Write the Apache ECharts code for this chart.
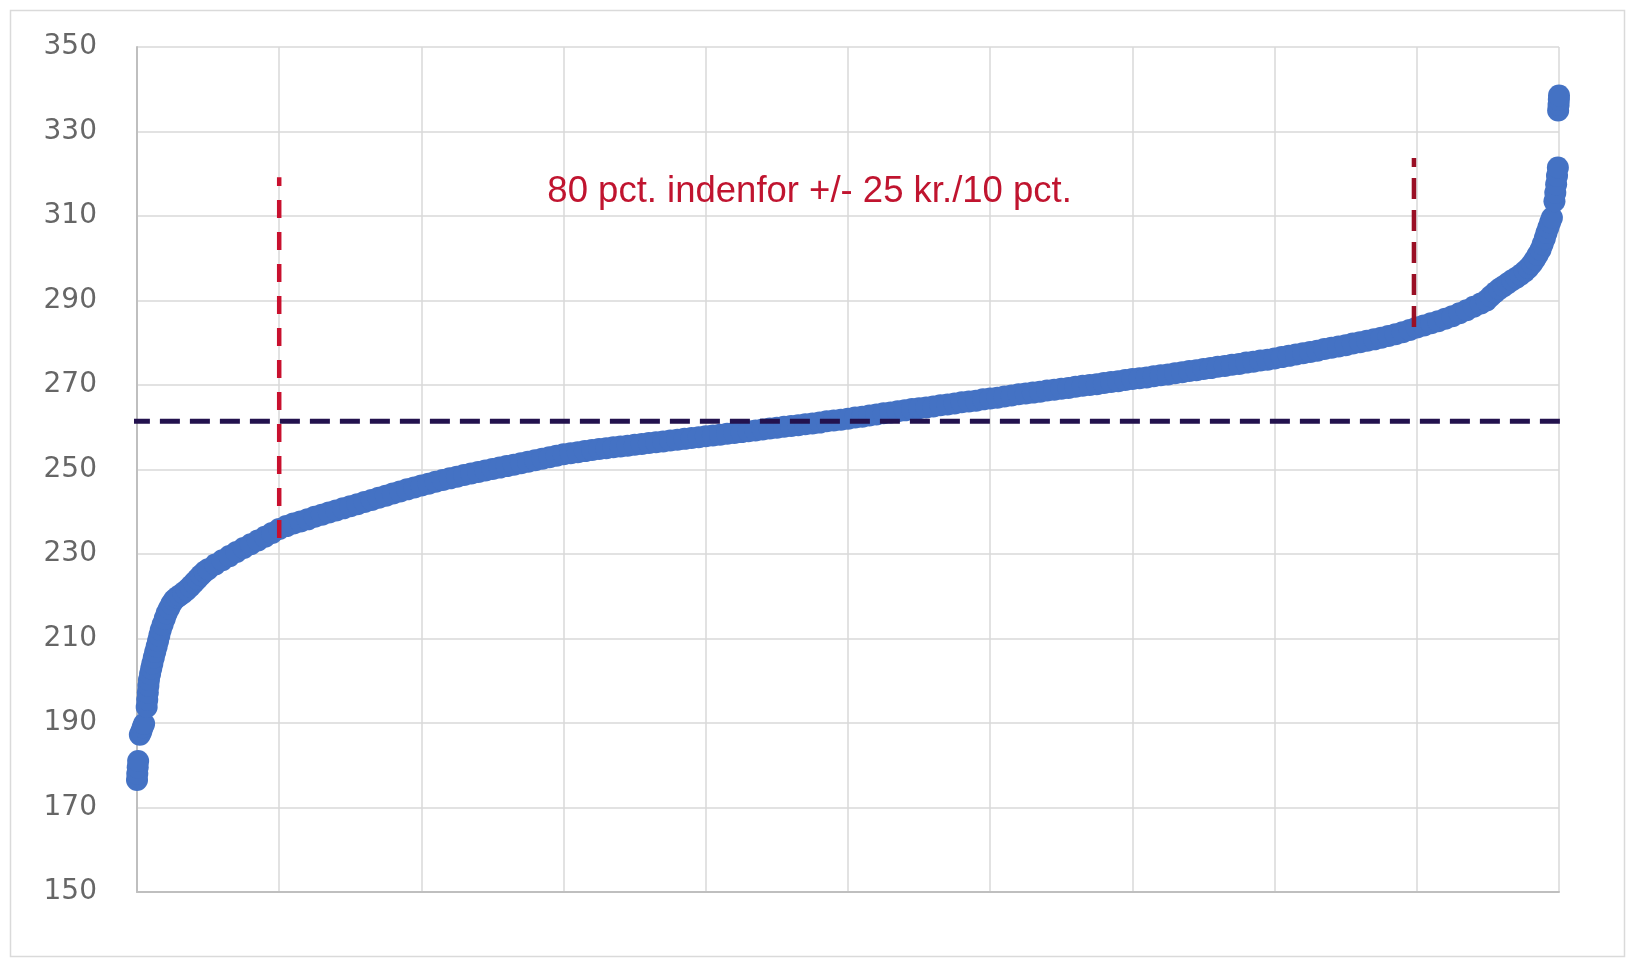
<!DOCTYPE html>
<html>
<head>
<meta charset="utf-8">
<script src="https://cdn.jsdelivr.net/npm/echarts@6/dist/echarts.min.js"></script>
<style>
html,body{margin:0;padding:0;background:#fff;}
#chart{width:1626px;height:963px;}
</style>
</head>
<body>
<div id="chart"></div>
<script>
// Percentile position (x) of each observation, sorted ascending
const pct = [
  0.00, 0.02, 0.05, 0.08,
  0.20, 0.30, 0.40, 0.50,
  0.68, 0.72, 0.76, 0.80, 0.84, 0.92, 1.00, 1.08, 1.18, 1.28, 1.38, 1.48, 1.57, 1.67, 1.80, 1.95,
  2.09, 2.25, 2.42, 2.60, 2.80, 3.00, 3.25, 3.50, 3.75, 4.00, 4.25, 4.50, 4.75, 5.00,
  5.5, 6.0, 6.5, 7.0, 7.5, 8.0, 8.5, 9.0, 9.5, 10.0,
  10.5, 11.0, 11.5, 12.0, 12.5, 13.0, 13.5, 14.0, 14.5, 15.0,
  15.5, 16.0, 16.5, 17.0, 17.5, 18.0, 18.5, 19.0, 19.5, 20.0,
  20.5, 21.0, 21.5, 22.0, 22.5, 23.0, 23.5, 24.0, 24.5, 25.0,
  25.5, 26.0, 26.5, 27.0, 27.5, 28.0, 28.5, 29.0, 29.5, 30.0,
  30.5, 31.0, 31.5, 32.0, 32.5, 33.0, 33.5, 34.0, 34.5, 35.0,
  35.5, 36.0, 36.5, 37.0, 37.5, 38.0, 38.5, 39.0, 39.5, 40.0,
  40.5, 41.0, 41.5, 42.0, 42.5, 43.0, 43.5, 44.0, 44.5, 45.0,
  45.5, 46.0, 46.5, 47.0, 47.5, 48.0, 48.5, 49.0, 49.5, 50.0,
  50.5, 51.0, 51.5, 52.0, 52.5, 53.0, 53.5, 54.0, 54.5, 55.0,
  55.5, 56.0, 56.5, 57.0, 57.5, 58.0, 58.5, 59.0, 59.5, 60.0,
  60.5, 61.0, 61.5, 62.0, 62.5, 63.0, 63.5, 64.0, 64.5, 65.0,
  65.5, 66.0, 66.5, 67.0, 67.5, 68.0, 68.5, 69.0, 69.5, 70.0,
  70.5, 71.0, 71.5, 72.0, 72.5, 73.0, 73.5, 74.0, 74.5, 75.0,
  75.5, 76.0, 76.5, 77.0, 77.5, 78.0, 78.5, 79.0, 79.5, 80.0,
  80.5, 81.0, 81.5, 82.0, 82.5, 83.0, 83.5, 84.0, 84.5, 85.0,
  85.5, 86.0, 86.5, 87.0, 87.5, 88.0, 88.5, 89.0, 89.5, 90.0,
  90.5, 91.0, 91.5, 92.0, 92.5, 93.0, 93.5, 94.0, 94.5, 94.9,
  95.2, 95.5, 95.8, 96.1, 96.4, 96.7, 97.0, 97.3, 97.6, 97.85,
  98.1, 98.3, 98.5, 98.7, 98.85, 99.0, 99.12, 99.25, 99.38, 99.5,
  99.68, 99.74, 99.80, 99.86, 99.92,
  99.94, 99.97, 99.99, 100.0
];
// Price (kr.) of each observation
const price = [
  176.5, 178.0, 179.5, 181.0,
  187.2, 188.0, 189.0, 189.8,
  193.8, 195.5, 197.2, 198.8, 200.2, 201.6, 202.9, 204.1, 205.5, 206.8, 208.1, 209.4, 210.7, 212.0, 213.3, 214.7,
  216.0, 217.1, 218.2, 219.1, 219.7, 220.2, 220.8, 221.5, 222.3, 223.2, 224.1, 225.0, 225.8, 226.4,
  227.5, 228.5, 229.5, 230.5, 231.4, 232.3, 233.2, 234.1, 235.0, 235.9,
  236.6, 237.2, 237.7, 238.2, 238.8, 239.3, 239.8, 240.3, 240.8, 241.3,
  241.8, 242.3, 242.8, 243.3, 243.8, 244.3, 244.8, 245.3, 245.75, 246.2,
  246.65, 247.1, 247.5, 247.9, 248.3, 248.7, 249.05, 249.4, 249.75, 250.1,
  250.45, 250.8, 251.15, 251.5, 251.85, 252.2, 252.55, 252.9, 253.25, 253.6,
  253.85, 254.1, 254.35, 254.6, 254.85, 255.05, 255.25, 255.45, 255.65, 255.85,
  256.05, 256.25, 256.45, 256.65, 256.85, 257.05, 257.25, 257.45, 257.65, 257.85,
  258.05, 258.25, 258.45, 258.65, 258.85, 259.05, 259.25, 259.45, 259.7, 259.9,
  260.1, 260.3, 260.5, 260.7, 260.9, 261.1, 261.4, 261.6, 261.8, 262.0,
  262.3, 262.5, 262.8, 263.0, 263.3, 263.5, 263.8, 264.0, 264.3, 264.5,
  264.7, 264.9, 265.2, 265.4, 265.6, 265.9, 266.1, 266.3, 266.6, 266.8,
  267.0, 267.3, 267.5, 267.8, 268.0, 268.2, 268.4, 268.7, 268.9, 269.1,
  269.3, 269.6, 269.8, 270.0, 270.2, 270.5, 270.7, 270.9, 271.2, 271.4,
  271.6, 271.8, 272.1, 272.3, 272.5, 272.8, 273.0, 273.3, 273.5, 273.8,
  274.0, 274.3, 274.5, 274.8, 275.0, 275.3, 275.5, 275.8, 276.0, 276.3,
  276.6, 276.9, 277.2, 277.5, 277.8, 278.1, 278.5, 278.8, 279.1, 279.4,
  279.8, 280.1, 280.5, 280.8, 281.2, 281.6, 282.0, 282.5, 283.0, 283.6,
  284.1, 284.6, 285.1, 285.7, 286.3, 287.0, 287.7, 288.5, 289.3, 290.0,
  291.0, 291.9, 292.7, 293.4, 294.1, 294.8, 295.4, 296.1, 296.9, 297.7,
  298.7, 299.7, 300.8, 302.0, 303.3, 304.7, 306.0, 307.3, 308.5, 309.6,
  313.5, 315.5, 317.5, 319.5, 321.5,
  335.0, 336.3, 337.5, 338.5
];
// Reference lines
const avgPrice = 261.4;            // horizontal dashed line
const avgSpanX = [-0.5, 100.6];
const lowCut = { x: 10, y: [233.8, 319.2] };   // 10th percentile marker
const highCut = { x: 89.8, y: [283.7, 323.7] }; // 90th percentile marker
const noteText = '80 pct. indenfor +/- 25 kr./10 pct.';
const notePos = [47.3, 315.7];
const yTicks = { min: 150, max: 350, step: 20 };

const points = pct.map((p, i) => [p, price[i]]);

const chart = echarts.init(document.getElementById('chart'), null, { renderer: 'canvas' });
chart.setOption({
  animation: false,
  backgroundColor: '#ffffff',
  graphic: [{
    type: 'rect', silent: true, z: -10,
    shape: { x: 10.5, y: 10.5, width: 1614, height: 946 },
    style: { fill: 'none', stroke: '#dadada', lineWidth: 1.5 }
  }],
  grid: { left: 137, right: 67, top: 47, bottom: 71, containLabel: false },
  xAxis: {
    type: 'value', min: 0, max: 100, interval: 10,
    axisLine: { show: true, lineStyle: { color: '#bfbfbf', width: 2 } },
    axisTick: { show: false },
    axisLabel: { show: false },
    splitLine: { show: true, lineStyle: { color: '#d9d9d9', width: 1.5 } }
  },
  yAxis: {
    type: 'value', min: yTicks.min, max: yTicks.max, interval: yTicks.step,
    axisLine: { show: true, lineStyle: { color: '#bfbfbf', width: 2 } },
    axisTick: { show: false },
    axisLabel: { color: '#666666', fontSize: 28, fontFamily: 'DejaVu Sans', margin: 40 },
    splitLine: { show: true, lineStyle: { color: '#d9d9d9', width: 1.5 } }
  },
  series: [
    {
      type: 'scatter', data: points, symbol: 'circle', symbolSize: 22, clip: false,
      itemStyle: { color: '#4472C4', opacity: 1 }, z: 2, silent: true
    },
    {
      type: 'line', data: [[avgSpanX[0], avgPrice], [avgSpanX[1], avgPrice]],
      showSymbol: false, symbol: 'none', clip: false, z: 5, silent: true,
      lineStyle: { color: '#23124E', width: 5, type: [20, 10] }
    },
    {
      type: 'line', data: [[lowCut.x, lowCut.y[0]], [lowCut.x, lowCut.y[1]]],
      showSymbol: false, symbol: 'none', clip: false, z: 5, silent: true,
      lineStyle: { color: '#C8102E', width: 4.5, type: [18, 14] },
      markPoint: {
        symbol: 'circle', symbolSize: 0, silent: true,
        data: [{ coord: notePos }],
        label: {
          show: true, position: 'inside', formatter: noteText,
          color: '#C0142F', fontSize: 36.5, fontFamily: 'Liberation Sans'
        }
      }
    },
    {
      type: 'line', data: [[highCut.x, highCut.y[0]], [highCut.x, highCut.y[1]]],
      showSymbol: false, symbol: 'none', clip: false, z: 5, silent: true,
      lineStyle: { color: '#9A0F25', width: 4.5, type: [21, 11] }
    }
  ]
});
</script>
</body>
</html>
